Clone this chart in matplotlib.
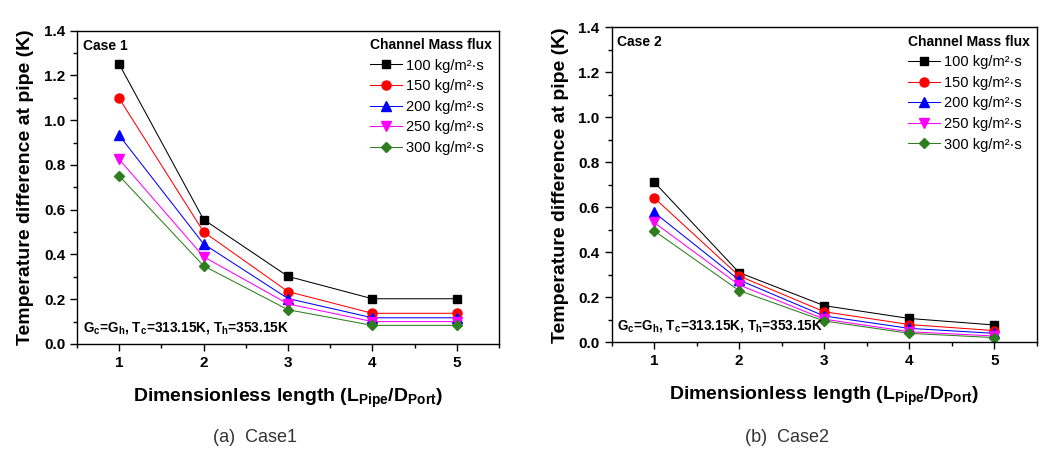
import matplotlib
matplotlib.use('Agg')
import matplotlib.pyplot as plt
from matplotlib.ticker import MultipleLocator, FormatStrFormatter

plt.rcParams['font.family'] = ['Liberation Sans', 'DejaVu Sans']
plt.rcParams['mathtext.fontset'] = 'custom'
plt.rcParams['mathtext.rm'] = 'Liberation Sans'
plt.rcParams['mathtext.bf'] = 'Liberation Sans:bold'

# data
length = [1, 2, 3, 4, 5]
flux_labels = ['100 kg/m²·s', '150 kg/m²·s', '200 kg/m²·s', '250 kg/m²·s', '300 kg/m²·s']

case1_100 = [1.25, 0.556, 0.302, 0.202, 0.202]
case1_150 = [1.097, 0.501, 0.234, 0.137, 0.137]
case1_200 = [0.932, 0.447, 0.203, 0.117, 0.117]
case1_250 = [0.825, 0.390, 0.179, 0.100, 0.100]
case1_300 = [0.751, 0.349, 0.153, 0.083, 0.083]

case2_100 = [0.713, 0.310, 0.163, 0.106, 0.077]
case2_150 = [0.643, 0.295, 0.136, 0.079, 0.052]
case2_200 = [0.578, 0.277, 0.117, 0.062, 0.040]
case2_250 = [0.533, 0.255, 0.103, 0.047, 0.028]
case2_300 = [0.496, 0.230, 0.095, 0.040, 0.021]

colors = ['black', 'red', 'blue', 'magenta', '#2e7d1e']
markers = ['s', 'o', '^', 'v', 'D']
marker_sizes = [5.5, 6.5, 7, 7, 5.5]

fig = plt.figure(figsize=(10.58, 4.58), dpi=100)
ax1 = fig.add_axes([0.0728, 0.249, 0.3988, 0.684])
ax2 = fig.add_axes([0.578, 0.2526, 0.402, 0.6874])


def draw(ax, series, case_name):
    for vals, c, m, ms, lab in zip(series, colors, markers, marker_sizes, flux_labels):
        ax.plot(length, vals, color=c, marker=m, markersize=ms, linewidth=0.75,
                markerfacecolor=c, markeredgecolor=c, label=lab)
    ax.set_xlim(0.5, 5.5)
    ax.set_ylim(0, 1.4)
    ax.xaxis.set_major_locator(MultipleLocator(1))
    ax.xaxis.set_minor_locator(MultipleLocator(0.5))
    ax.yaxis.set_major_locator(MultipleLocator(0.2))
    ax.yaxis.set_minor_locator(MultipleLocator(0.1))
    ax.yaxis.set_major_formatter(FormatStrFormatter('%.1f'))
    ax.tick_params(which='both', direction='out', top=False, right=False)
    ax.tick_params(which='major', length=5, width=1, labelsize=11)
    ax.tick_params(which='minor', length=3, width=1)
    for lbl in ax.get_xticklabels() + ax.get_yticklabels():
        lbl.set_fontweight('bold')
    for sp in ax.spines.values():
        sp.set_linewidth(1)
    ax.set_ylabel('Temperature difference at pipe (K)', fontsize=14, fontweight='bold', labelpad=7)
    ax.set_xlabel(r'Dimensionless length (L$_\mathregular{Pipe}$/D$_\mathregular{Port}$)',
                  fontsize=14, fontweight='bold', labelpad=12)
    ax.text(0.014, 0.975, case_name, transform=ax.transAxes, fontsize=10,
            fontweight='bold', va='top', ha='left')
    ax.text(0.014, 0.025,
            r'G$_\mathregular{c}$=G$_\mathregular{h}$, T$_\mathregular{c}$=313.15K, T$_\mathregular{h}$=353.15K',
            transform=ax.transAxes, fontsize=9.8, fontweight='bold', va='bottom', ha='left')
    leg = ax.legend(loc='upper right', frameon=False, fontsize=10.5, handlelength=2.2,
                    handletextpad=0.3, labelspacing=0.45, borderaxespad=0.1,
                    title='Channel Mass flux', title_fontproperties={'weight': 'bold', 'size': 10})
    leg._legend_box.align = 'left'


draw(ax1, [case1_100, case1_150, case1_200, case1_250, case1_300], 'Case 1')
draw(ax2, [case2_100, case2_150, case2_200, case2_250, case2_300], 'Case 2')

fig.text(0.241, 0.045, '(a)  Case1', fontsize=13, ha='center', va='center', color='#333333')
fig.text(0.744, 0.045, '(b)  Case2', fontsize=13, ha='center', va='center', color='#333333')

fig.savefig('out.png', dpi=100)
